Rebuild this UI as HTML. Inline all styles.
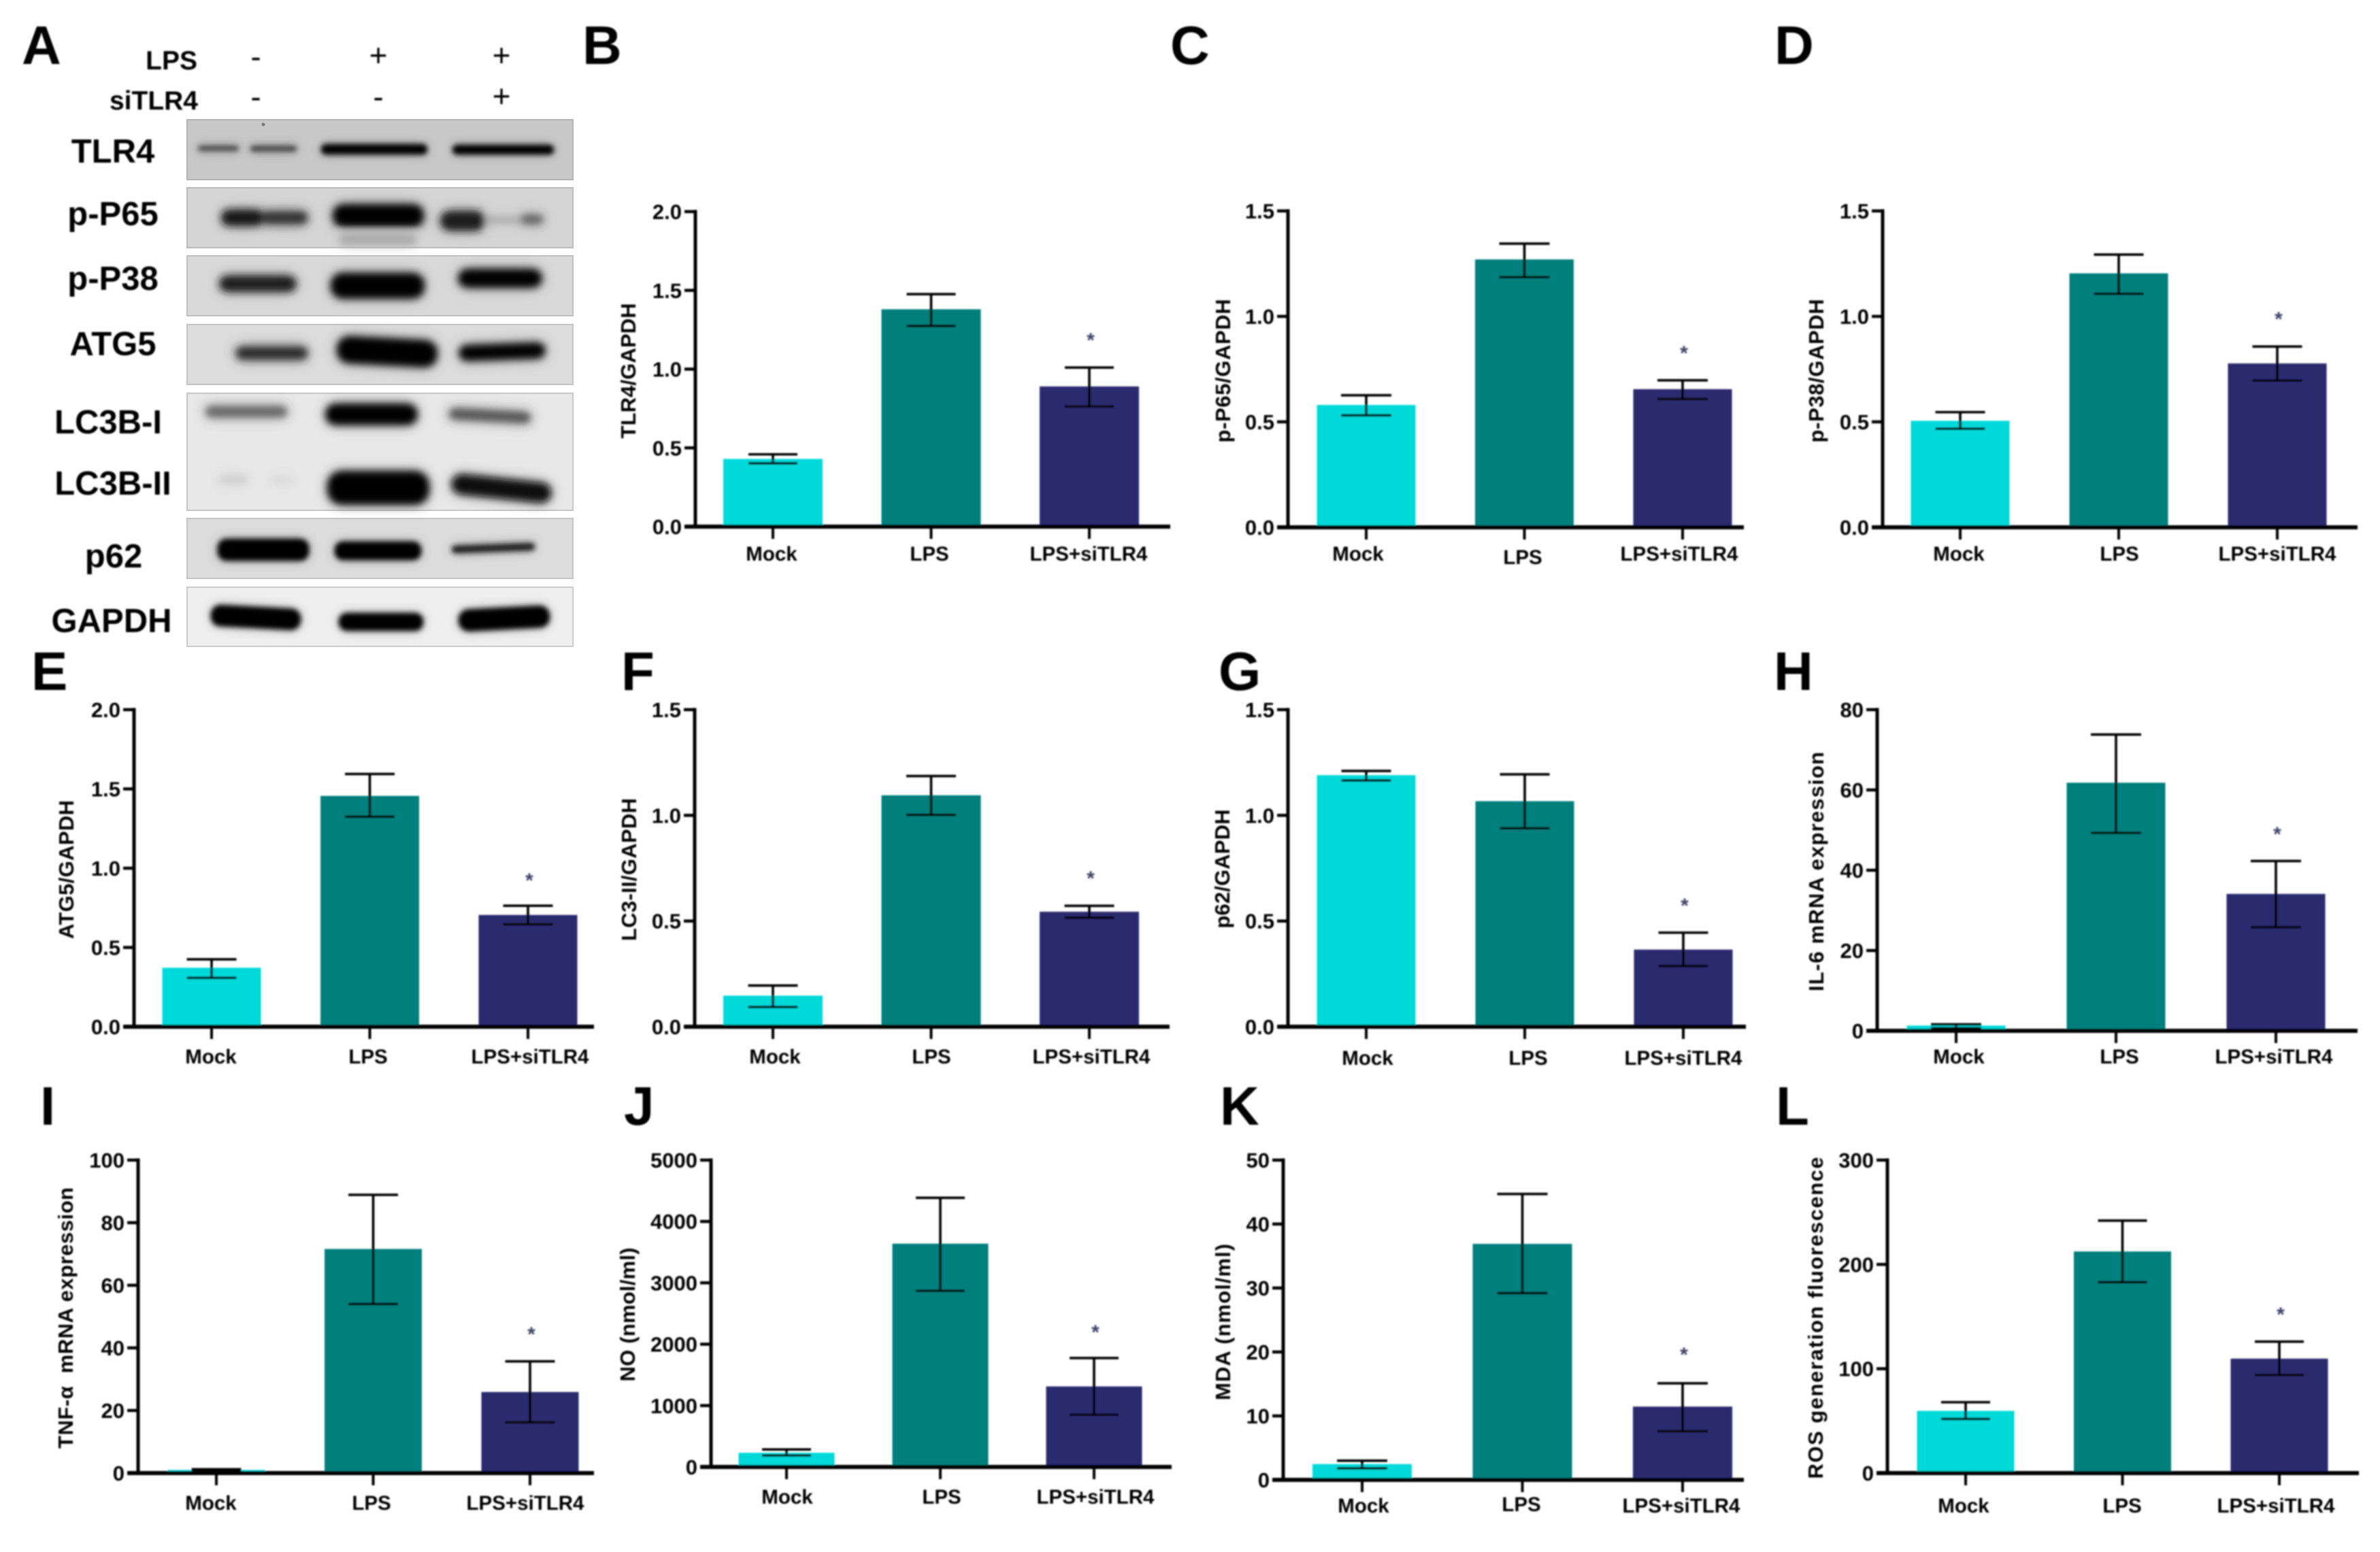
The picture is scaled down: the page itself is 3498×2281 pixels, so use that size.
<!DOCTYPE html>
<html lang="en">
<head>
<meta charset="utf-8">
<title>TLR4 knockdown western blot and bar chart panels</title>
<style>
html,body{margin:0;padding:0;background:#fff;width:3498px;height:2281px;overflow:hidden}
svg{display:block}
text{font-family:"Liberation Sans","DejaVu Sans",sans-serif;font-weight:bold;fill:#000}
.pl{font-size:80px}
.bl{font-size:49px;text-anchor:middle}
.tl{font-size:31px;text-anchor:end}
.cl{font-size:29.5px;text-anchor:middle}
.yt{font-size:31px;text-anchor:middle}
.st{font-size:30px;text-anchor:middle;fill:#3c4468}
.tr{font-size:39px;text-anchor:end}
.sg{font-size:46px;font-weight:normal;text-anchor:middle}
</style>
</head>
<body>
<svg id="figure" xmlns="http://www.w3.org/2000/svg" width="3498" height="2281" viewBox="0 0 3498 2281">
<defs>
<filter id="b5" x="-30%" y="-150%" width="160%" height="400%">
<feGaussianBlur in="SourceGraphic" stdDeviation="10" result="wide"/>
<feComponentTransfer in="wide" result="halo"><feFuncA type="linear" slope="0.55"/></feComponentTransfer>
<feGaussianBlur in="SourceGraphic" stdDeviation="5.5" result="core"/>
<feMerge><feMergeNode in="halo"/><feMergeNode in="core"/></feMerge>
</filter>
<filter id="b3" x="-30%" y="-150%" width="160%" height="400%">
<feGaussianBlur in="SourceGraphic" stdDeviation="8" result="wide"/>
<feComponentTransfer in="wide" result="halo"><feFuncA type="linear" slope="0.4"/></feComponentTransfer>
<feGaussianBlur in="SourceGraphic" stdDeviation="3.8" result="core"/>
<feMerge><feMergeNode in="halo"/><feMergeNode in="core"/></feMerge>
</filter>
<filter id="soft" x="-2%" y="-2%" width="104%" height="104%"><feGaussianBlur stdDeviation="1"/></filter>
</defs>
<rect width="3498" height="2281" fill="#fff"/>

<g id="panel-letters" filter="url(#soft)">
<text class="pl" x="32" y="94">A</text>
<text class="pl" x="856" y="94">B</text>
<text class="pl" x="1720" y="94">C</text>
<text class="pl" x="2608" y="94">D</text>
<text class="pl" x="46" y="1014">E</text>
<text class="pl" x="913" y="1014">F</text>
<text class="pl" x="1791" y="1014">G</text>
<text class="pl" x="2607" y="1014">H</text>
<text class="pl" x="59" y="1653">I</text>
<text class="pl" x="917" y="1653">J</text>
<text class="pl" x="1793" y="1653">K</text>
<text class="pl" x="2610" y="1653">L</text>
</g>

<g id="blot">
<g filter="url(#soft)">
<text class="tr" x="290" y="102">LPS</text>
<text class="tr" x="291" y="161">siTLR4</text>
<text class="sg" x="376" y="99">-</text>
<text class="sg" x="556" y="97">+</text>
<text class="sg" x="737" y="97">+</text>
<text class="sg" x="376" y="158">-</text>
<text class="sg" x="556" y="158">-</text>
<text class="sg" x="737" y="157">+</text>
</g>
<g filter="url(#soft)">
<text class="bl" x="166" y="239">TLR4</text>
<text class="bl" x="166" y="331">p-P65</text>
<text class="bl" x="166" y="426">p-P38</text>
<text class="bl" x="166" y="522">ATG5</text>
<text class="bl" x="159" y="637">LC3B-I</text>
<text class="bl" x="166" y="727">LC3B-II</text>
<text class="bl" x="167" y="834">p62</text>
<text class="bl" x="164" y="929">GAPDH</text>
</g>

<g>
<rect x="275" y="176" width="567" height="88" fill="#c8c8c8" stroke="#b4b4b4" stroke-width="2"/>
<circle cx="387" cy="183" r="2.5" fill="#777"/>
<g filter="url(#b3)">
<rect x="291" y="214" width="60" height="8" rx="4" fill="#484848"/>
<rect x="368" y="214" width="68" height="9" rx="4" fill="#484848"/>
<rect x="472" y="212" width="156" height="15" rx="7" fill="#000"/>
<rect x="665" y="213" width="149" height="14" rx="7" fill="#000"/>
</g>
</g>
<g>
<rect x="275" y="276" width="567" height="88" fill="#d5d5d5" stroke="#bcbcbc" stroke-width="2"/>
<g filter="url(#b5)">
<rect x="326" y="309" width="60" height="22" rx="10" fill="#141414"/>
<rect x="384" y="311" width="68" height="18" rx="9" fill="#303030"/>
<rect x="490" y="301" width="132" height="32" rx="14" fill="#000"/>
<rect x="648" y="311" width="64" height="27" rx="13" fill="#1a1a1a"/>
<rect x="712" y="320" width="54" height="7" fill="#a0a0a0"/>
<rect x="766" y="316" width="32" height="13" rx="6" fill="#606060"/>
<rect x="500" y="345" width="110" height="14" fill="#a8a8a8"/>
</g>
</g>
<g>
<rect x="275" y="376" width="567" height="88" fill="#d9d9d9" stroke="#c0c0c0" stroke-width="2"/>
<g filter="url(#b5)">
<rect x="323" y="406" width="112" height="22" rx="11" fill="#1c1c1c"/>
<rect x="487" y="402" width="136" height="36" rx="16" fill="#000"/>
<rect x="674" y="396" width="122" height="26" rx="13" fill="#000"/>
</g>
</g>
<g>
<rect x="275" y="477" width="567" height="88" fill="#dcdcdc" stroke="#c4c4c4" stroke-width="2"/>
<g filter="url(#b5)">
<rect x="347" y="510" width="105" height="18" rx="9" fill="#2c2c2c"/>
<rect x="496" y="498" width="146" height="38" rx="17" fill="#000" transform="rotate(3 570 516)"/>
<rect x="675" y="506" width="126" height="22" rx="11" fill="#000" transform="rotate(-2 738 517)"/>
</g>
</g>
<g>
<rect x="275" y="578" width="567" height="172" fill="#e8e8e8" stroke="#c8c8c8" stroke-width="2"/>
<g filter="url(#b5)">
<rect x="302" y="597" width="120" height="16" rx="8" fill="#666"/>
<rect x="479" y="594" width="134" height="30" rx="14" fill="#050505"/>
<rect x="660" y="603" width="120" height="16" rx="8" fill="#555" transform="rotate(3 720 611)"/>
<rect x="322" y="699" width="42" height="12" rx="6" fill="#cfcfcf"/>
<rect x="398" y="701" width="32" height="9" rx="4" fill="#d8d8d8"/>
<rect x="482" y="693" width="148" height="48" rx="20" fill="#000"/>
<rect x="664" y="704" width="146" height="28" rx="14" fill="#101010" transform="rotate(6 737 718)"/>
</g>
</g>
<g>
<rect x="275" y="762" width="567" height="88" fill="#dcdcdc" stroke="#c4c4c4" stroke-width="2"/>
<g filter="url(#b3)">
<rect x="320" y="792" width="134" height="32" rx="13" fill="#000"/>
<rect x="492" y="796" width="127" height="27" rx="12" fill="#000"/>
<rect x="664" y="800" width="122" height="11" rx="5" fill="#1c1c1c" transform="rotate(-2 725 806)"/>
</g>
</g>
<g>
<rect x="275" y="863" width="567" height="87" fill="#efefef" stroke="#cccccc" stroke-width="2"/>
<g filter="url(#b3)">
<rect x="310" y="892" width="132" height="31" rx="14" fill="#000" transform="rotate(3 376 907)"/>
<rect x="498" y="901" width="124" height="26" rx="12" fill="#000"/>
<rect x="674" y="893" width="134" height="32" rx="15" fill="#000" transform="rotate(-3 741 909)"/>
</g>
</g>
</g>

<g id="charts" filter="url(#soft)"></g>
</svg>

<script>
// ---- chart data ----
const categories = ['Mock', 'LPS', 'LPS+siTLR4'];
const panelKeys = ['b', 'c', 'd', 'e', 'f', 'g', 'h', 'i', 'j', 'k', 'l'];
const yTitles = ['TLR4/GAPDH', 'p-P65/GAPDH', 'p-P38/GAPDH', 'ATG5/GAPDH', 'LC3-II/GAPDH', 'p62/GAPDH', 'IL-6 mRNA expression', 'TNF-α\u00a0\u00a0mRNA expression', 'NO (nmol/ml)', 'MDA (nmol/ml)', 'ROS generation fluorescence'];
const tickLabels = [
  ['0.0', '0.5', '1.0', '1.5', '2.0'],
  ['0.0', '0.5', '1.0', '1.5'],
  ['0.0', '0.5', '1.0', '1.5'],
  ['0.0', '0.5', '1.0', '1.5', '2.0'],
  ['0.0', '0.5', '1.0', '1.5'],
  ['0.0', '0.5', '1.0', '1.5'],
  ['0', '20', '40', '60', '80'],
  ['0', '20', '40', '60', '80', '100'],
  ['0', '1000', '2000', '3000', '4000', '5000'],
  ['0', '10', '20', '30', '40', '50'],
  ['0', '100', '200', '300']
];
const meanValues = [
  [0.43, 1.38, 0.89],
  [0.58, 1.27, 0.655],
  [0.505, 1.204, 0.777],
  [0.372, 1.456, 0.705],
  [0.147, 1.095, 0.544],
  [1.19, 1.067, 0.365],
  [1.3, 61.8, 34.1],
  [1.0, 71.6, 25.9],
  [231, 3638, 1312],
  [2.47, 36.9, 11.46],
  [59.6, 212.4, 109.7]
];
const errorHigh = [
  [0.459, 1.476, 1.01],
  [0.626, 1.345, 0.697],
  [0.546, 1.293, 0.857],
  [0.425, 1.594, 0.763],
  [0.195, 1.186, 0.572],
  [1.21, 1.194, 0.445],
  [1.6, 73.8, 42.3],
  [1.2, 88.9, 35.7],
  [285, 4385, 1774],
  [3.0, 44.7, 15.1],
  [67.9, 242, 126]
];
const errorLow = [
  [0.402, 1.274, 0.763],
  [0.531, 1.186, 0.608],
  [0.467, 1.107, 0.696],
  [0.308, 1.325, 0.646],
  [0.093, 1.002, 0.516],
  [1.165, 0.939, 0.287],
  [0.65, 49.3, 25.8],
  [0.7, 54, 16.2],
  [186, 2869, 851],
  [1.82, 29.2, 7.6],
  [51.9, 183, 94]
];
const starValues = [1.21, 0.845, 1.006, 0.948, 0.721, 0.592, 50, 45.6, 2262, 20.2, 156];

// ---- layout of each panel frame ----
const panelFrames = [
  {axis:1022, top:311,  base:774,  end:1720, bars:1136, step:232.5, bw:146, capW:72, labels:[1134,1366,1600], labY:[824,824,824], titleX:934, titleY:545,  titleLen:199},
  {axis:1893, top:310,  base:775,  end:2563, bars:2008, step:232.5, bw:145, capW:74, labels:[1996,2238,2468], labY:[824,829,824], titleX:1808, titleY:545, titleLen:211},
  {axis:2767, top:310,  base:775,  end:3465, bars:2881, step:233,   bw:145, capW:73, labels:[2879,3115,3347], labY:[824,824,824], titleX:2680, titleY:545, titleLen:211},
  {axis:197,  top:1043, base:1509, end:873,  bars:311,  step:232.5, bw:145, capW:73, labels:[310,541,779],    labY:[1563,1563,1563], titleX:108, titleY:1278, titleLen:204},
  {axis:1021, top:1043, base:1509, end:1719, bars:1136, step:232.5, bw:146, capW:73, labels:[1139,1369,1604], labY:[1563,1563,1563], titleX:935, titleY:1278, titleLen:210},
  {axis:1893, top:1043, base:1509, end:2566, bars:2008, step:233,   bw:145, capW:73, labels:[2010,2246,2474], labY:[1565,1565,1565], titleX:1807, titleY:1277, titleLen:175},
  {axis:2759, top:1043, base:1515, end:3465, bars:2875, step:235,   bw:145, capW:74, labels:[2879,3115,3342], labY:[1563,1563,1563], titleX:2680, titleY:1281, titleLen:352},
  {axis:203,  top:1705, base:2165, end:873,  bars:318,  step:230.5, bw:143, capW:73, labels:[310,546,772],    labY:[2219,2219,2219], titleX:107, titleY:1937, titleLen:384},
  {axis:1045, top:1705, base:2156, end:1722, bars:1156, step:226,   bw:141, capW:72, labels:[1157,1384,1610], labY:[2210,2210,2210], titleX:933, titleY:1932, titleLen:197},
  {axis:1886, top:1705, base:2175, end:2563, bars:2002, step:235.5, bw:146, capW:74, labels:[2004,2236,2471], labY:[2223,2221,2223], titleX:1808, titleY:1943, titleLen:230},
  {axis:2774, top:1705, base:2165, end:3467, bars:2889, step:230.5, bw:143, capW:72, labels:[2886,3119,3345], labY:[2223,2223,2223], titleX:2679, titleY:1937, titleLen:473}
];
const barColors = ['#00d9d9', '#007f7c', '#2b2c6e'];

const NS = 'http://www.w3.org/2000/svg';
const root = document.getElementById('charts');
function mk(tag, attrs, parent, txt) {
  const n = document.createElementNS(NS, tag);
  for (const k in attrs) n.setAttribute(k, attrs[k]);
  if (txt !== undefined) n.textContent = txt;
  parent.appendChild(n);
  return n;
}

panelKeys.forEach(function (key, p) {
  const f = panelFrames[p];
  const ticks = tickLabels[p];
  const yMax = parseFloat(ticks[ticks.length - 1]);
  const yScale = function (v) { return f.base - (v / yMax) * (f.base - f.top); };
  const xScale = function (i) { return f.bars + i * f.step; };

  const g = mk('g', {}, root);
  
  

  categories.forEach(function (cat, i) {
    const cx = xScale(i);
    const top = yScale(meanValues[p][i]);
    const bar = mk('rect', {x: cx - f.bw / 2, y: top, width: f.bw, height: f.base - top, fill: barColors[i]}, g);
    
    
  });

  const yAxis = mk('line', {x1: f.axis, x2: f.axis, y1: f.top - 2.5, y2: f.base, stroke: '#000', 'stroke-width': 5}, g);
  
  
  const xAxis = mk('line', {x1: f.axis - 16, x2: f.end, y1: f.base, y2: f.base, stroke: '#000', 'stroke-width': 6}, g);
  
  

  ticks.forEach(function (lab) {
    const y = yScale(parseFloat(lab));
    if (parseFloat(lab) !== 0) {
      const tick = mk('line', {x1: f.axis - 16, x2: f.axis, y1: y, y2: y, stroke: '#000', 'stroke-width': 4.5}, g);
      
      
    }
    const tl = mk('text', {'class': 'tl', x: f.axis - 20, y: y + 11}, g, lab);
    
    
  });

  categories.forEach(function (cat, i) {
    const cx = xScale(i);
    const xt = mk('line', {x1: cx, x2: cx, y1: f.base, y2: f.base + 18, stroke: '#000', 'stroke-width': 4}, g);
    
    
    const cl = mk('text', {'class': 'cl', x: f.labels[i], y: f.labY[i]}, g, cat);
    
    

    const hi = yScale(errorHigh[p][i]);
    const lo = yScale(errorLow[p][i]);
    const eg = mk('g', {stroke: '#000', 'stroke-width': 3.6, fill: 'none'}, g);
    
    
    mk('line', {x1: cx, x2: cx, y1: hi, y2: lo}, eg);
    mk('line', {x1: cx - f.capW / 2, x2: cx + f.capW / 2, y1: hi, y2: hi}, eg);
    mk('line', {x1: cx - f.capW / 2, x2: cx + f.capW / 2, y1: lo, y2: lo}, eg);
  });

  const star = mk('text', {'class': 'st', x: xScale(2) + 2, y: yScale(starValues[p]) + 16}, g, '*');
  
  

  const title = mk('text', {
    'class': 'yt',
    transform: 'translate(' + f.titleX + ',' + f.titleY + ') rotate(-90)',
    textLength: f.titleLen,
    lengthAdjust: 'spacing'
  }, g, yTitles[p]);
  
  
});
</script>
</body>
</html>
